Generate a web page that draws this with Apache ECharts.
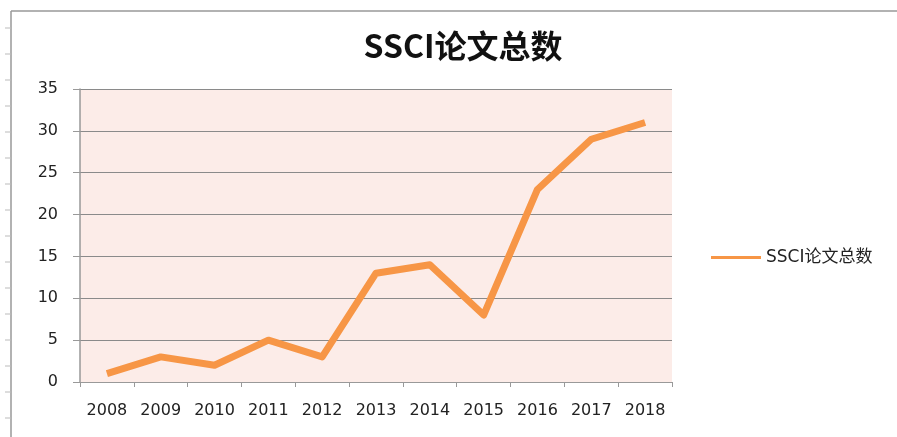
<!DOCTYPE html>
<html>
<head>
<meta charset="utf-8">
<script src="https://cdn.jsdelivr.net/npm/echarts@6/dist/echarts.min.js"></script>
<style>
  html, body { margin: 0; padding: 0; background: #fff; }
  #chart { width: 897px; height: 437px; }
</style>
</head>
<body>
<div id="chart"></div>
<script>
// 年份与SSCI论文数
const years = ['2008', '2009', '2010', '2011', '2012', '2013', '2014', '2015', '2016', '2017', '2018'];
const ssciCounts = [1, 3, 2, 5, 3, 13, 14, 8, 23, 29, 31];
const seriesName = 'SSCI论文总数';

const chartDom = document.getElementById('chart');
const myChart = echarts.init(chartDom);

const font = '"DejaVu Sans", "Noto Sans CJK SC", sans-serif';

// 外框左侧的小刻度
const frameTicks = [];
for (let y = 28; y < 437; y += 26) {
  frameTicks.push({
    type: 'line',
    shape: { x1: 5, y1: y, x2: 11, y2: y },
    style: { stroke: '#bbb', lineWidth: 1 }
  });
}

const option = {
  backgroundColor: '#fff',
  title: {
    text: seriesName,
    left: 458,
    top: 25,
    textAlign: 'center',
    textStyle: {
      fontFamily: '"Noto Sans CJK SC", sans-serif',
      fontSize: 32,
      fontWeight: 'bold',
      color: '#111'
    }
  },
  legend: {
    data: [{ name: seriesName, icon: 'rect' }],
    left: 706,
    top: 244,
    itemWidth: 50,
    itemHeight: 3,
    itemGap: 2,
    textStyle: { fontFamily: font, fontSize: 17, color: '#222' }
  },
  grid: {
    left: 80,
    right: 225,
    top: 89,
    bottom: 55,
    show: true,
    backgroundColor: '#fcece8',
    borderWidth: 0
  },
  xAxis: {
    type: 'category',
    data: years,
    boundaryGap: true,
    axisLine: { lineStyle: { color: '#999', width: 1 } },
    axisTick: { show: true, length: 5, lineStyle: { color: '#999' } },
    axisLabel: {
      margin: 21,
      fontFamily: font,
      fontSize: 16,
      color: '#222'
    }
  },
  yAxis: {
    type: 'value',
    min: 0,
    max: 35,
    interval: 5,
    axisLine: { show: true, lineStyle: { color: '#999', width: 1.5 } },
    axisTick: { show: true, length: 7, lineStyle: { color: '#999' } },
    splitLine: { lineStyle: { color: '#8a8a8a', width: 1 } },
    axisLabel: {
      margin: 22,
      fontFamily: font,
      fontSize: 16,
      color: '#222'
    }
  },
  series: [
    {
      name: seriesName,
      type: 'line',
      data: ssciCounts,
      symbol: 'none',
      lineStyle: { color: '#f79646', width: 7, join: 'round' },
      itemStyle: { color: '#f79646' }
    }
  ],
  graphic: [
    {
      type: 'line',
      shape: { x1: 11, y1: 11, x2: 897, y2: 11 },
      style: { stroke: '#999', lineWidth: 1.5 }
    },
    {
      type: 'line',
      shape: { x1: 11, y1: 11, x2: 11, y2: 437 },
      style: { stroke: '#999', lineWidth: 1.5 }
    }
  ].concat(frameTicks)
};

myChart.setOption(option);
</script>
</body>
</html>
